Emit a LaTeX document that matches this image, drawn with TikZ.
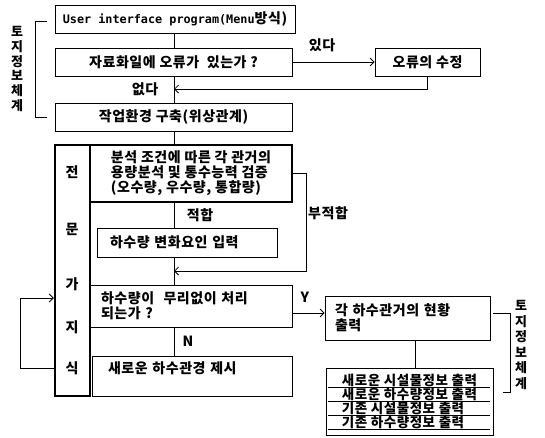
\documentclass[tikz,border=0pt]{standalone}
\usepackage{fontspec}
\setmainfont{Noto Sans CJK KR}[LetterSpace=4]
\setmonofont{DejaVu Sans Mono}
\usetikzlibrary{arrows.meta}

\tikzset{
  box/.style={draw, line width=0.8pt, minimum height=28pt, inner sep=0pt},
  heavy/.style={draw, line width=2.4pt, inner sep=0pt},
  flow/.style={line width=0.8pt},
  back/.style={line width=0.8pt, -{Straight Barb[length=4pt,width=8pt]}},
  tag/.style={inner sep=0pt}
}

\begin{document}
\begin{tikzpicture}[x=1pt, y=1pt, every node/.style={font=\fontsize{14}{15}\selectfont\bfseries}]
            \useasboundingbox (0,0) rectangle (545,-437);
            \coordinate (trunk) at (174,0);

            % Draw the upper boxes
            \node[box, minimum width=240pt] (ui) at (175,-19) {{\ttfamily\fontsize{11.8}{14}\selectfont User interface program(Menu}방식)};
            \node[box, minimum width=237pt] (err) at (173.5,-62) {자료화일에 오류가\ \ 있는가 ?};
            \node[box, minimum width=105pt] (fix) at (427.5,-62) {오류의 수정};
            \node[box, minimum width=237pt] (env) at (173.5,-117) {작업환경 구축(위상관계)};

            % Draw the expert block
            \node[heavy, minimum width=35pt, minimum height=251pt] (expert) at (72.5,-270.5) {};
            \node[heavy, minimum width=202pt, minimum height=57pt, align=left] (anal) at (191,-173.5) {분석 조건에 따른 각 관거의\\용량분석 및 통수능력 검증\\(오수량, 우수량, 통합량)};
            \node[box, minimum width=180pt, minimum height=29pt, align=left, text width=154pt, inner xsep=13pt] (chg) at (187,-242.5) {하수량 변화요인 입력};
            \node[box, minimum width=202pt, minimum height=42pt, align=left, text width=180pt, inner xsep=11pt] (check) at (191,-306) {하수량이\ \ 무리없이 처리\\되는가 ?};
            \node[box, minimum width=200pt, minimum height=40pt, align=left, text width=168pt, inner xsep=16pt, text depth=16pt] (new) at (192,-376) {새로운 하수관경 제시};

            \node[tag] (c1) at (72,-172) {전};
            \node[tag] (c2) at (72,-229) {문};
            \node[tag] (c3) at (72,-284) {가};
            \node[tag] (c4) at (72,-327) {지};
            \node[tag] (c5) at (72,-368) {식};

            % Draw the output boxes
            \node[box, minimum width=165pt, minimum height=44pt, align=left, text width=145pt, inner xsep=10pt] (cur) at (407.5,-318) {각 하수관거의 현황\\출력};
            \node[box, minimum width=167pt, minimum height=67pt, align=left, font=\fontsize{13.5}{14}\selectfont\bfseries] (list) at (409.5,-401.5) {새로운 시설물정보 출력\\새로운 하수량정보 출력\\기존 시설물정보 출력\\기존 하수량정보 출력};

            \draw[flow] (328,-387) -- (490,-387);
            \draw[flow] (328,-401) -- (490,-401);
            \draw[flow] (328,-415) -- (490,-415);
            \draw[flow] (328,-429) -- (490,-429);

            % Draw the main line
            \draw[flow] (ui.south -| trunk) -- (err.north -| trunk);
            \draw[flow] (err.south -| trunk) -- (env.north -| trunk);
            \draw[flow] (env.south -| trunk) -- (anal.north -| trunk);
            \draw[flow] (anal.south -| trunk) -- (chg.north -| trunk);
            \draw[flow] (chg.south -| trunk) -- (check.north -| trunk);
            \draw[flow] (check.south -| trunk) -- (new.north -| trunk);

            % Draw the branches
            \draw[back] (err.east) -- (fix.west);
            \draw[back] (fix.south) |- (trunk |- 0,-89);
            \draw[back] (anal.east) -- ++(13,0) |- (trunk |- 0,-271);
            \draw[back] (check.east |- 0,-313) -- (cur.west |- 0,-313);
            \draw[flow] ([xshift=8pt]cur.south) -- ([xshift=8pt]cur.south |- list.north);
            \draw[back] (expert.west |- 0,-368) -- (20,-368) |- (expert.west |- 0,-298);

            \node[tag] (yes) at (322,-45) {있다};
            \node[tag] (no) at (145,-89) {없다};
            \node[tag] (fit) at (200,-215) {적합};
            \node[tag] (unfit) at (328,-213) {부적합};
            \node[tag] (y) at (305,-297) {Y};
            \node[tag] (n) at (188,-341) {N};

            % Draw the brackets
            \draw[flow] (47,-21) -- (35,-21) -- (35,-117) -- (47,-117);
            \node[tag, align=center, font=\fontsize{13}{14.7}\selectfont\bfseries] (lis1) at (17,-69) {토\\지\\정\\보\\체\\계};
            \draw[flow] (493,-313) -- (510,-313) -- (510,-392) -- (503,-392);
            \node[tag, align=center, font=\fontsize{13}{15.6}\selectfont\bfseries] (lis2) at (521,-345) {토\\지\\정\\보\\체\\계};

        \end{tikzpicture}
\end{document}
